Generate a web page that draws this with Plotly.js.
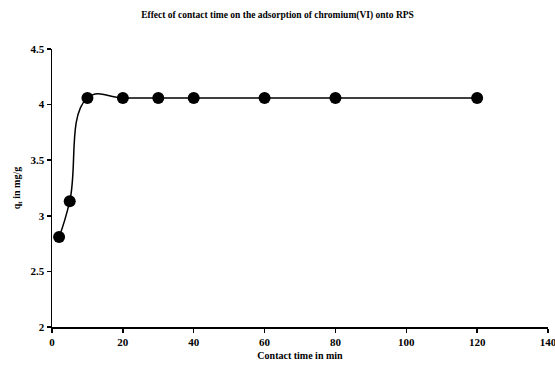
<!DOCTYPE html>
<html><head><meta charset="utf-8">
<script src="https://cdn.plot.ly/plotly-3.0.1.min.js"></script>
<style>html,body{margin:0;padding:0;background:#fff}#c{width:555px;height:368px}</style>
</head><body><div id="c"></div>
<script>
const contactTime = [2, 5, 10, 20, 30, 40, 60, 80, 120];
const qt = [2.81, 3.13, 4.06, 4.06, 4.06, 4.06, 4.06, 4.06, 4.06];
const xTicks = [0, 20, 40, 60, 80, 100, 120, 140];
const yTicks = [2, 2.5, 3, 3.5, 4, 4.5];

const fnt = {family: 'Liberation Serif, Times New Roman, serif', color: '#000'};
Plotly.newPlot('c', [{
  x: contactTime, y: qt, type: 'scatter', mode: 'lines+markers',
  line: {color: '#000', width: 1.5, shape: 'spline', smoothing: 1.3},
  marker: {color: '#000', size: 12}
}], {
  width: 555, height: 368,
  margin: {l: 52, r: 7, t: 49, b: 41},
  paper_bgcolor: '#fff', plot_bgcolor: '#fff',
  showlegend: false,
  title: {text: '<b>Effect of contact time on the adsorption of chromium(VI) onto RPS</b>',
          font: Object.assign({size: 9.5}, fnt), x: 0.5, xanchor: 'center', y: 0.96, yanchor: 'middle'},
  xaxis: {range: [0, 140], tickvals: xTicks, ticktext: xTicks.map(v => '<b>' + v + '</b>'),
          showgrid: false, zeroline: false, showline: true, linecolor: '#000', linewidth: 1.5,
          ticks: 'outside', ticklen: 4, tickcolor: '#000', tickwidth: 1.5,
          ticklabeloverflow: 'allow',
          tickfont: Object.assign({size: 11}, fnt),
          title: {text: '<b>Contact time in min</b>', font: Object.assign({size: 10}, fnt), standoff: 5}},
  yaxis: {range: [2, 4.5], tickvals: yTicks, ticktext: yTicks.map(v => '<b>' + v + '</b>'),
          showgrid: false, zeroline: false, showline: true, linecolor: '#000', linewidth: 1.5,
          ticks: 'outside', ticklen: 4, tickcolor: '#000', tickwidth: 1.5,
          tickfont: Object.assign({size: 11}, fnt),
          title: {text: '<b>q<sub>t</sub> in mg/g</b>', font: Object.assign({size: 10}, fnt), standoff: 8}}
}, {displayModeBar: false, staticPlot: true});
</script></body></html>
